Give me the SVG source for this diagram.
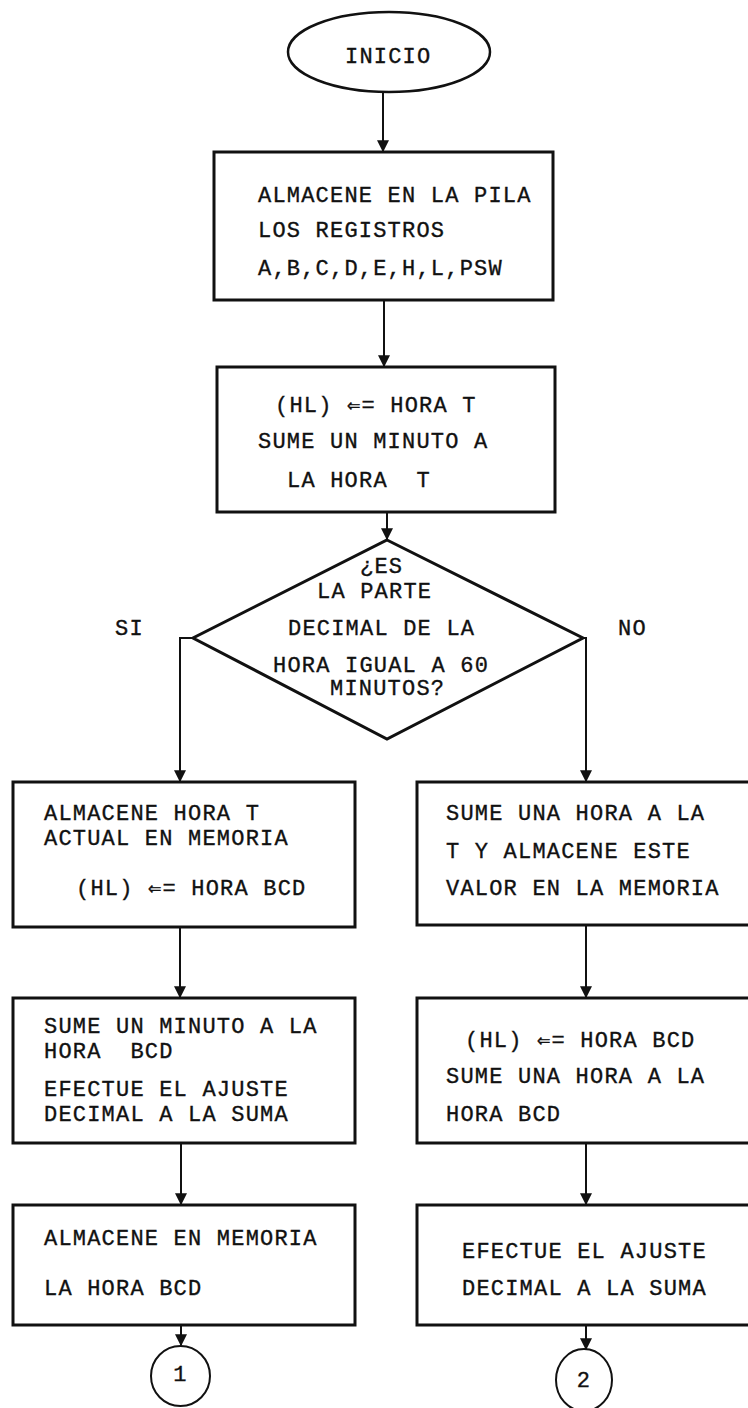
<svg xmlns="http://www.w3.org/2000/svg" width="748" height="1408" viewBox="0 0 748 1408">
<style>
.t{font-family:"Liberation Mono","DejaVu Sans Mono",monospace;font-size:22px;letter-spacing:1.2px;fill:#111;stroke:#111;stroke-width:0.35;white-space:pre}
.b{fill:#fff;stroke:#111;stroke-width:3}
.c{fill:none;stroke:#111;stroke-width:2}
</style>
<defs>
<marker id="ah" viewBox="0 0 10 10" refX="9" refY="5" markerWidth="6" markerHeight="6" orient="auto" markerUnits="strokeWidth">
<path d="M0,0 L10,5 L0,10 z" fill="#111"/>
</marker>
</defs>
<rect width="748" height="1408" fill="#fff"/>
<g id="connectors">
<path class="c" d="M383,92 V151" marker-end="url(#ah)"/>
<path class="c" d="M384,300 V366" marker-end="url(#ah)"/>
<path class="c" d="M387,512 V539" marker-end="url(#ah)"/>
<path class="c" d="M193,638 H180 V781" marker-end="url(#ah)"/>
<path class="c" d="M582,638 H586 V781" marker-end="url(#ah)"/>
<path class="c" d="M180,927 V997" marker-end="url(#ah)"/>
<path class="c" d="M586,925 V997" marker-end="url(#ah)"/>
<path class="c" d="M181,1143 V1204" marker-end="url(#ah)"/>
<path class="c" d="M586,1143 V1204" marker-end="url(#ah)"/>
<path class="c" d="M181,1325 V1345" marker-end="url(#ah)"/>
<path class="c" d="M586,1325 V1349" marker-end="url(#ah)"/>
<text class="t" x="115" y="635">SI</text>
<text class="t" x="618" y="635">NO</text>
</g>
<g id="inicio">
<ellipse cx="389" cy="52" rx="101" ry="40" fill="#fff" stroke="#111" stroke-width="2.5"/>
<text class="t" x="345" y="63">INICIO</text>
</g>
<g id="box1">
<rect class="b" x="214" y="152" width="339" height="148"/>
<text class="t" x="258" y="202">ALMACENE EN LA PILA</text>
<text class="t" x="258" y="237">LOS REGISTROS</text>
<text class="t" x="258" y="275">A,B,C,D,E,H,L,PSW</text>
</g>
<g id="box2">
<rect class="b" x="217" y="367" width="338" height="145"/>
<text class="t" x="275" y="412">(HL) ⇐= HORA T</text>
<text class="t" x="258" y="448">SUME UN MINUTO A</text>
<text class="t" x="287" y="487">LA HORA  T</text>
</g>
<g id="decision">
<polygon class="b" points="387,540 583,638 387,739 193,638"/>
<text class="t" x="360" y="573">¿ES</text>
<text class="t" x="317" y="598">LA PARTE</text>
<text class="t" x="288" y="635">DECIMAL DE LA</text>
<text class="t" x="273" y="672">HORA IGUAL A 60</text>
<text class="t" x="330" y="695">MINUTOS?</text>
</g>
<g id="left1">
<rect class="b" x="13" y="782" width="342" height="145"/>
<text class="t" x="44" y="820">ALMACENE HORA T</text>
<text class="t" x="44" y="845">ACTUAL EN MEMORIA</text>
<text class="t" x="76" y="895">(HL) ⇐= HORA BCD</text>
</g>
<g id="right1">
<rect class="b" x="417" y="782" width="336" height="143"/>
<text class="t" x="446" y="820">SUME UNA HORA A LA</text>
<text class="t" x="446" y="858">T Y ALMACENE ESTE</text>
<text class="t" x="446" y="895">VALOR EN LA MEMORIA</text>
</g>
<g id="left2">
<rect class="b" x="13" y="998" width="342" height="145"/>
<text class="t" x="44" y="1033">SUME UN MINUTO A LA</text>
<text class="t" x="44" y="1058">HORA  BCD</text>
<text class="t" x="44" y="1096">EFECTUE EL AJUSTE</text>
<text class="t" x="44" y="1121">DECIMAL A LA SUMA</text>
</g>
<g id="right2">
<rect class="b" x="417" y="998" width="336" height="145"/>
<text class="t" x="465" y="1047">(HL) ⇐= HORA BCD</text>
<text class="t" x="446" y="1083">SUME UNA HORA A LA</text>
<text class="t" x="446" y="1121">HORA BCD</text>
</g>
<g id="left3">
<rect class="b" x="13" y="1205" width="342" height="120"/>
<text class="t" x="44" y="1245">ALMACENE EN MEMORIA</text>
<text class="t" x="44" y="1295">LA HORA BCD</text>
</g>
<g id="right3">
<rect class="b" x="417" y="1205" width="336" height="120"/>
<text class="t" x="462" y="1258">EFECTUE EL AJUSTE</text>
<text class="t" x="462" y="1295">DECIMAL A LA SUMA</text>
</g>
<g id="conn1">
<ellipse cx="180.5" cy="1376" rx="29.5" ry="30" fill="#fff" stroke="#111" stroke-width="2"/>
<text class="t" x="180.5" y="1381" text-anchor="middle">1</text>
</g>
<g id="conn2">
<ellipse cx="584" cy="1380" rx="28" ry="31" fill="#fff" stroke="#111" stroke-width="2"/>
<text class="t" x="584" y="1387" text-anchor="middle">2</text>
</g>
</svg>
